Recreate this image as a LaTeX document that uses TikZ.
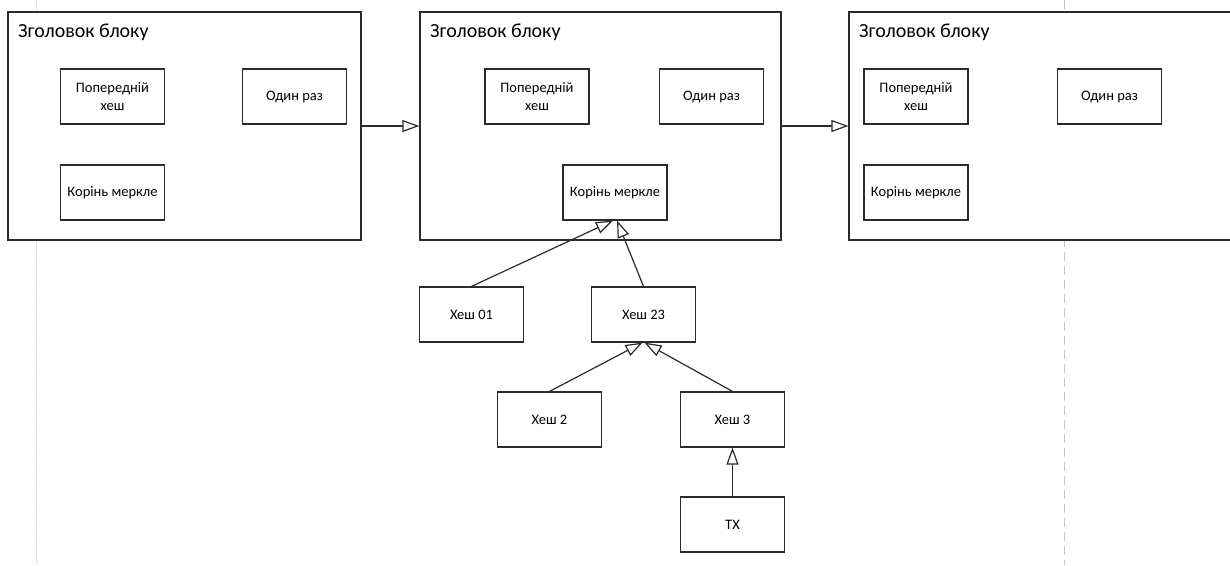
\documentclass[tikz,border=0pt]{standalone}
\usepackage{fontspec}
\setmainfont{Carlito}
\usetikzlibrary{arrows.meta}
\definecolor{edge}{HTML}{2B2B2B}
\definecolor{guideA}{HTML}{E4E4E4}
\definecolor{guideB}{HTML}{C4C4C4}
\tikzset{
  blockbox/.style={draw=edge, line width=1.3pt, fill=white, inner sep=0pt},
  itembox/.style={draw=edge, line width=1.2pt, fill=white, minimum width=104pt,
    minimum height=55pt, align=center, font=\fontsize{14.5}{18.5}\selectfont, inner sep=1pt},
  titletext/.style={anchor=north west, inner sep=0pt, font=\fontsize{20}{24}\selectfont},
  conn/.style={draw=edge, line width=1.2pt,
    -{Triangle[open, length=17pt, width=12pt, fill=white]}},
}
\begin{document}
\begin{tikzpicture}[x=1pt, y=-1pt]
\useasboundingbox (0,0) rectangle (1230,565);

% page guide lines
\draw[guideA, line width=1pt, dash pattern=on 12pt off 2pt] (36,0) -- (36,565);
\draw[guideB, line width=1pt, dash pattern=on 9pt off 5pt] (1064,0) -- (1064,565);

% block headers
\node[blockbox, minimum width=353pt, minimum height=228pt] (b1) at (184.5,126) {};
\node[blockbox, minimum width=361pt, minimum height=228pt] (b2) at (600.5,126) {};
\node[blockbox, minimum width=385pt, minimum height=228pt] (b3) at (1041.5,126) {};

\node[titletext] (t1) at (18,24) {Зголовок блоку};
\node[titletext] (t2) at (430,24) {Зголовок блоку};
\node[titletext] (t3) at (859,24) {Зголовок блоку};

% block 1 fields
\node[itembox] (b1p) at (112.5,96.5) {Попередній\\хеш};
\node[itembox] (b1n) at (294.5,96.5) {Один раз};
\node[itembox] (b1m) at (112.5,192.5) {Корінь меркле};

% block 2 fields
\node[itembox] (b2p) at (537,96.5) {Попередній\\хеш};
\node[itembox] (b2n) at (711.5,96.5) {Один раз};
\node[itembox] (b2m) at (615,192.5) {Корінь меркле};

% block 3 fields
\node[itembox] (b3p) at (916,96.5) {Попередній\\хеш};
\node[itembox] (b3n) at (1109.5,96.5) {Один раз};
\node[itembox] (b3m) at (916,192.5) {Корінь меркле};

% merkle tree
\node[itembox] (h01) at (471.5,314.5) {Хеш 01};
\node[itembox] (h23) at (643.5,314.5) {Хеш 23};
\node[itembox] (h2) at (549.5,419.5) {Хеш 2};
\node[itembox] (h3) at (732.5,419.5) {Хеш 3};
\node[itembox] (tx) at (732.5,524.5) {ТХ};

% chain links
\draw[conn] (b1.east) -- (b2.west);
\draw[conn] (b2.east) -- (b3.west);

% tree links
\draw[conn] (h01.north) -- ([xshift=-2pt]b2m.south);
\draw[conn] (h23.north) -- ([xshift=2pt]b2m.south);
\draw[conn] (h2.north) -- ([xshift=-1pt]h23.south);
\draw[conn] (h3.north) -- ([xshift=1pt]h23.south);
\draw[conn] (tx.north) -- (h3.south);
\end{tikzpicture}
\end{document}
